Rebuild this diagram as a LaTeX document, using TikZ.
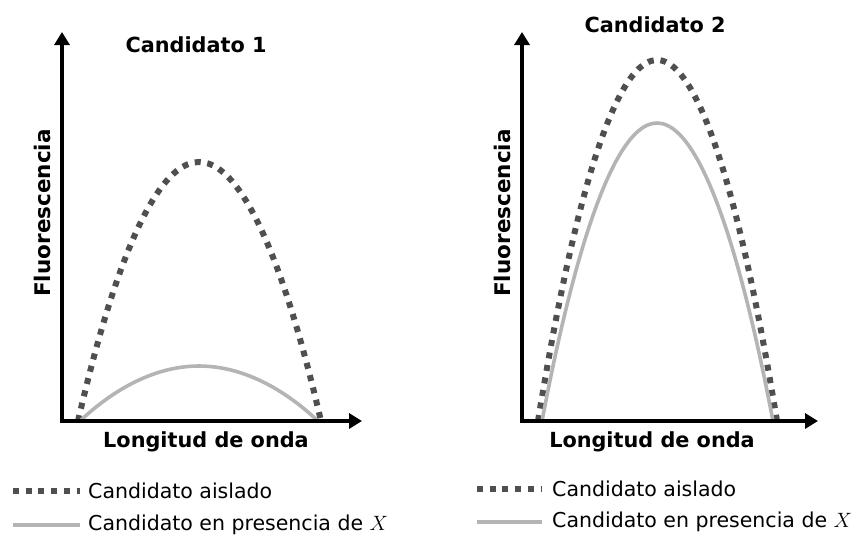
\documentclass[tikz,border=0pt]{standalone}
\usepackage{fontspec}
\setmainfont{DejaVu Sans}
\usetikzlibrary{arrows.meta}
\definecolor{dashgray}{HTML}{4F4F4F}
\definecolor{lightgray}{HTML}{B4B4B4}
\begin{document}
\begin{tikzpicture}[x=1pt,y=-1pt,
  axis/.style={line width=3.4pt,-{Triangle[length=13pt,width=15pt]}},
  isolated/.style={line width=6pt,dashgray,dash pattern=on 6pt off 6.7pt},
  withx/.style={line width=3.6pt,lightgray},
  bold/.style={font=\fontsize{20.8}{24}\selectfont\bfseries,inner sep=0pt},
  leg/.style={font=\fontsize{20.5}{24}\selectfont,inner sep=0pt,anchor=west}]
\useasboundingbox (0,0) rectangle (854,538);
% left plot
\coordinate (o1) at (62,421);
\coordinate (y1) at (62,32);
\coordinate (x1) at (362,421);
\draw[isolated] (78,421) parabola bend (199,162) (321,421);
\draw[withx] (80,421) parabola bend (199,366) (318,421);
\draw[axis] (o1) -- (y1);
\draw[axis] ([xshift=-1.7pt]o1) -- (x1);
\node[bold] (t1) at (196,45) {Candidato 1};
\node[bold,rotate=90,font=\fontsize{21.5}{24}\selectfont\bfseries] (f1) at (42,213) {Fluorescencia};
\node[bold] (l1) at (206,442) {Longitud de onda};
% right plot
\coordinate (o2) at (522,421);
\coordinate (y2) at (522,32);
\coordinate (x2) at (818,421);
\draw[isolated] (538,421) parabola bend (657,60) (777,421);
\draw[withx] (542,421) parabola bend (657,123) (773,421);
\draw[axis] (o2) -- (y2);
\draw[axis] ([xshift=-1.7pt]o2) -- (x2);
\node[bold] (t2) at (655,25) {Candidato 2};
\node[bold,rotate=90,font=\fontsize{21.5}{24}\selectfont\bfseries] (f2) at (502,213) {Fluorescencia};
\node[bold] (l2) at (652,442) {Longitud de onda};
% legends
\coordinate (a1) at (13,491); \coordinate (b1) at (80,491);
\coordinate (c1) at (13,525); \coordinate (d1) at (80,525);
\draw[isolated] (a1) -- (b1);
\draw[withx] (c1) -- (d1);
\node[leg] (n1) at (88,491) {Candidato aislado};
\node[leg] (m1) at (88,525) {Candidato en presencia de $X$};
\coordinate (a2) at (477,489); \coordinate (b2) at (542,489);
\coordinate (c2) at (477,522); \coordinate (d2) at (542,522);
\draw[isolated] (a2) -- (b2);
\draw[withx] (c2) -- (d2);
\node[leg] (n2) at (552,489) {Candidato aislado};
\node[leg] (m2) at (552,522) {Candidato en presencia de $X$};
\end{tikzpicture}
\end{document}
